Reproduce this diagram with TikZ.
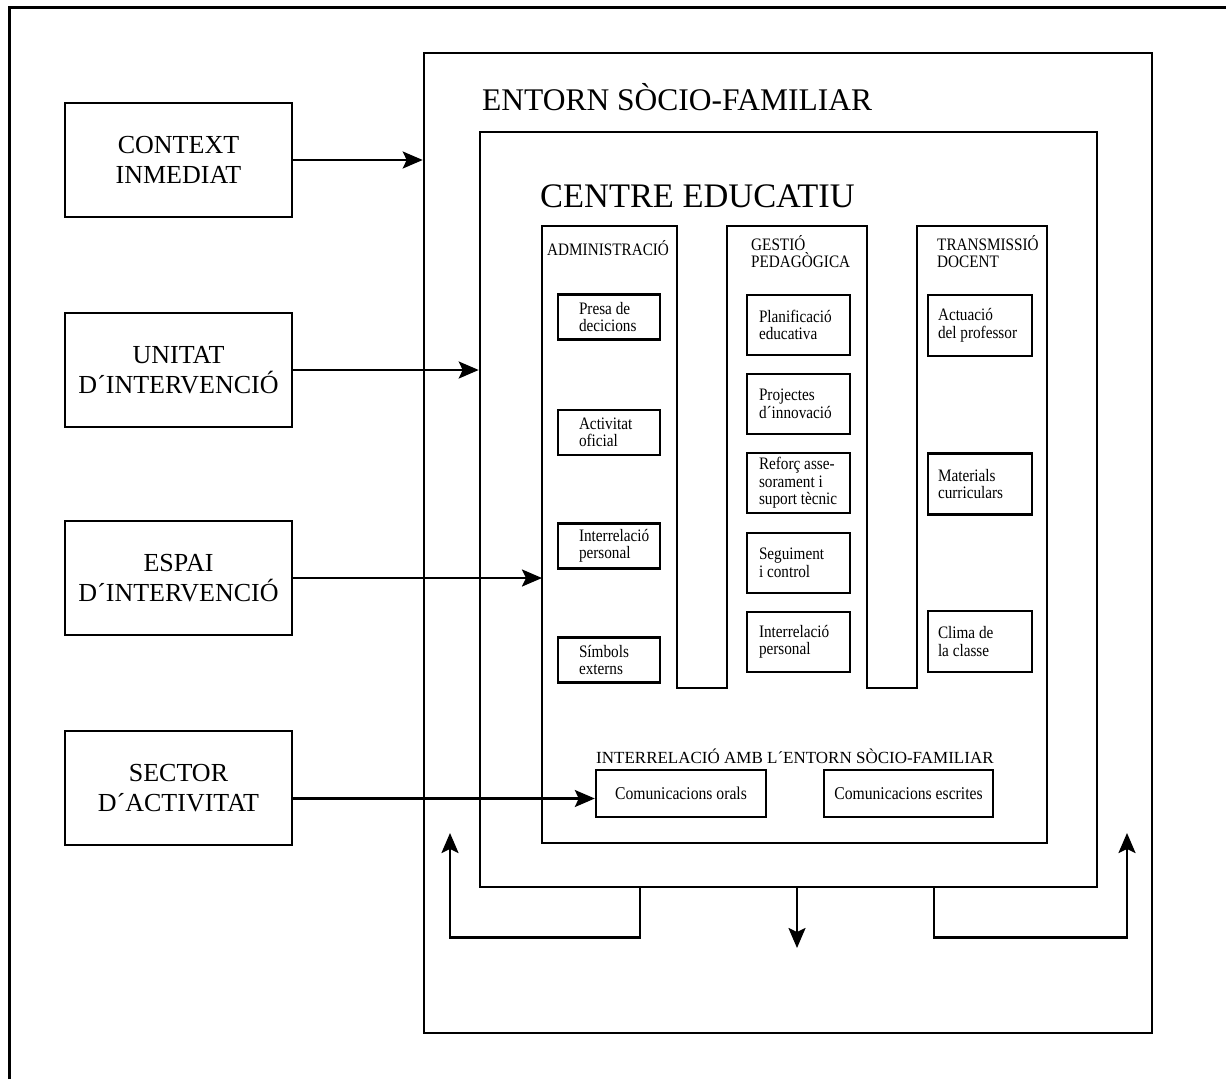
\documentclass[tikz,border=0pt]{standalone}
\usepackage{fontspec}
\setmainfont{Liberation Serif}
\newfontfamily\condfont{Liberation Serif}[FakeStretch=0.87]
\newcommand\nohyph{\hyphenpenalty=10000\relax}
\usetikzlibrary{arrows.meta}
\begin{document}
\begin{tikzpicture}[x=1pt,y=-1pt,
  lbox/.style={draw, line width=2.6pt, minimum width=227pt, minimum height=114pt, align=center, inner sep=0pt, font=\fontsize{26}{30}\selectfont},
  frame/.style={draw, line width=2.6pt, inner sep=0pt},
  sub/.style={draw, line width=2.4pt, inner ysep=0pt, align=flush left, font=\condfont\fontsize{17.5}{17.5}\selectfont\nohyph},
  subA/.style={sub, text width=60pt, inner xsep=21pt, minimum height=45pt},
  subG/.style={sub, text width=79pt, inner xsep=12pt, minimum height=60pt},
  subT/.style={sub, text width=84pt, inner xsep=10pt, minimum height=61pt},
  hdr/.style={anchor=base west, inner sep=0pt, align=flush left, font=\condfont\fontsize{17.5}{17}\selectfont},
  comm/.style={draw, line width=2.4pt, minimum height=47pt, inner sep=0pt, font=\condfont\fontsize{18}{18}\selectfont},
  ttl/.style={anchor=base west, inner sep=0pt},
  colshape/.style={line width=2.4pt},
  arr/.style={line width=2.4pt, -{Stealth[length=20pt,width=17pt,inset=4pt]}}
]
\useasboundingbox (0,0) rectangle (1226,1079);
% outer frame (only top and left edges are visible)
\draw[line width=3pt] (9,1079) -- (9,7) -- (1226,7);

% left boxes
\node[lbox] (ctx) at (178.5,160) {CONTEXT\\INMEDIAT};
\node[lbox] (unit) at (178.5,370) {UNITAT\\D´INTERVENCIÓ};
\node[lbox] (espai) at (178.5,578) {ESPAI\\D´INTERVENCIÓ};
\node[lbox] (sector) at (178.5,788) {SECTOR\\D´ACTIVITAT};

% nested frames
\node[frame, minimum width=728pt, minimum height=980pt] (entorn) at (788,543) {};
\node[ttl, font=\fontsize{31.5}{31.5}\selectfont] (tEnt) at (482,110) {ENTORN SÒCIO-FAMILIAR};
\node[frame, minimum width=617pt, minimum height=755pt] (centre) at (788.5,509.5) {};
\node[ttl, font=\fontsize{34.4}{34.4}\selectfont] (tCen) at (540,207) {CENTRE EDUCATIU};

% three-column inner shape
\coordinate (pTL) at (542,226);
\draw[colshape] (pTL) -- (677,226) -- (677,688) -- (727,688) -- (727,226) -- (867,226)
  -- (867,688) -- (917,688) -- (917,226) -- (1047,226) -- (1047,843) -- (542,843) -- cycle;

% column headers
\node[hdr] (hA) at (547,255) {ADMINISTRACIÓ};
\node[hdr] (hG) at (751,267) {GESTIÓ\\PEDAGÒGICA};
\node[hdr] (hT) at (937,267) {TRANSMISSIÓ\\DOCENT};

% Administració
\node[subA] (presa) at (609,317) {Presa~de\\decicions};
\node[subA] (activ) at (609,432.5) {Activitat\\oficial};
\node[subA] (interA) at (609,546) {Interrelació\\personal};
\node[subA] (simb) at (609,660) {Símbols\\externs};

% Gestió pedagògica
\node[subG] (plan) at (798.5,325) {Planificació\\educativa};
\node[subG] (proj) at (798.5,404) {Projectes\\d´innovació};
\node[subG] (refor) at (798.5,483) {Reforç~asse-\\sorament~i\\suport~tècnic};
\node[subG] (segu) at (798.5,563) {Seguiment\\i~control};
\node[subG] (interG) at (798.5,642) {Interrelació\\personal};

% Transmissió docent
\node[subT] (actu) at (980,325.5) {Actuació\\del~professor};
\node[subT] (mat) at (980,484) {Materials\\curriculars};
\node[subT] (clima) at (980,641.5) {Clima~de\\la~classe};

% bottom section
\node[ttl, font=\fontsize{17}{17}\selectfont] (hI) at (596,763) {INTERRELACIÓ AMB L´ENTORN SÒCIO-FAMILIAR};
\node[comm, minimum width=170pt] (orals) at (681,793.5) {Comunicacions orals};
\node[comm, minimum width=169pt] (escr) at (908.5,793.5) {Comunicacions escrites};

% input arrows
\draw[arr] (ctx.east) -- (ctx.east -| entorn.west);
\draw[arr] (unit.east) -- (unit.east -| centre.west);
\draw[arr] (espai.east) -- (espai.east -| pTL);
\coordinate (oralsIn) at ([yshift=-5pt]orals.west);
\draw[arr] (sector.east |- oralsIn) -- (oralsIn);

% output arrows
\coordinate (fbL) at ([xshift=-148.5pt]centre.south);
\coordinate (fbM) at ([xshift=8.5pt]centre.south);
\coordinate (fbR) at ([xshift=145.5pt]centre.south);
\coordinate (tipL) at (450,833);
\coordinate (tipM) at (797,948);
\coordinate (tipR) at (1127,833);
\draw[arr] (fbL) -- ++(0,49) -| (tipL);
\draw[arr] (fbM) -- (tipM);
\draw[arr] (fbR) -- ++(0,49) -| (tipR);
\end{tikzpicture}
\end{document}
